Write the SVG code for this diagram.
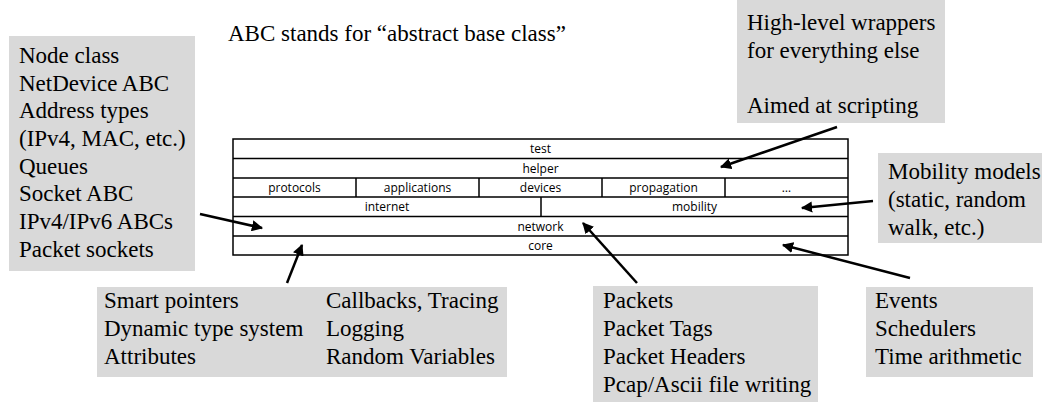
<svg xmlns="http://www.w3.org/2000/svg" width="1046" height="402" viewBox="0 0 1046 402">
<style>
.box{fill:#d9d9d9;stroke:none}
.t{font-family:"Liberation Serif","Times New Roman",serif;font-size:23px;fill:#000}
.s{font-family:"Open Sans","Liberation Sans",sans-serif;font-size:12px;fill:#000;text-anchor:middle}
.ln{stroke:#000;stroke-width:1.5;fill:none}
.ar{stroke:#000;stroke-width:2.5;fill:none;marker-end:url(#ah)}
</style>
<defs>
<marker id="ah" viewBox="0 0 10 10" refX="9" refY="5" markerWidth="4.5" markerHeight="4.5" orient="auto" markerUnits="strokeWidth">
<path d="M0,0 L10,5 L0,10 z" fill="#000"/>
</marker>
</defs>
<rect width="1046" height="402" fill="#fff"/>
<text class="t" x="228" y="41" font-size="22.7">ABC stands for “abstract base class”</text>
<g id="stack">
<rect class="ln" x="233" y="139" width="615" height="116" fill="#fff"/>
<path class="ln" d="M233,158.5H848M233,178H848M233,197H848M233,216.5H848M233,236H848M356,178V197M479,178V197M602,178V197M725,178V197M541,197V216.5"/>
<text class="s" x="540.5" y="153">test</text>
<text class="s" x="540.5" y="172.5">helper</text>
<text class="s" x="294.5" y="192">protocols</text>
<text class="s" x="417.5" y="192">applications</text>
<text class="s" x="540.5" y="192">devices</text>
<text class="s" x="663.5" y="192">propagation</text>
<text class="s" x="786.5" y="192">…</text>
<text class="s" x="387" y="211">internet</text>
<text class="s" x="694.5" y="211">mobility</text>
<text class="s" x="540.5" y="230.5">network</text>
<text class="s" x="540.5" y="250">core</text>
</g>
<g id="node-network-notes">
<rect class="box" x="9" y="36" width="186" height="235"/>
<text class="t" x="19" y="63">Node class</text>
<text class="t" x="19" y="91">NetDevice ABC</text>
<text class="t" x="19" y="118">Address types</text>
<text class="t" x="19" y="146">(IPv4, MAC, etc.)</text>
<text class="t" x="19" y="174">Queues</text>
<text class="t" x="19" y="201">Socket ABC</text>
<text class="t" x="19" y="229">IPv4/IPv6 ABCs</text>
<text class="t" x="19" y="257">Packet sockets</text>
</g>
<g id="node-helper-notes">
<rect class="box" x="737" y="0" width="208" height="123"/>
<text class="t" x="747" y="30">High-level wrappers</text>
<text class="t" x="747" y="58">for everything else</text>
<text class="t" x="747" y="113">Aimed at scripting</text>
</g>
<g id="node-mobility-notes">
<rect class="box" x="878" y="153" width="164" height="90"/>
<text class="t" x="888" y="179">Mobility models</text>
<text class="t" x="888" y="207">(static, random</text>
<text class="t" x="888" y="235">walk, etc.)</text>
</g>
<g id="node-core-notes">
<rect class="box" x="97" y="287" width="410" height="90"/>
<text class="t" x="104" y="308">Smart pointers</text>
<text class="t" x="104" y="336">Dynamic type system</text>
<text class="t" x="104" y="364">Attributes</text>
<text class="t" x="326" y="308">Callbacks, Tracing</text>
<text class="t" x="326" y="336">Logging</text>
<text class="t" x="326" y="364">Random Variables</text>
</g>
<g id="node-packet-notes">
<rect class="box" x="593" y="286" width="225" height="116"/>
<text class="t" x="603" y="308">Packets</text>
<text class="t" x="603" y="336">Packet Tags</text>
<text class="t" x="603" y="364">Packet Headers</text>
<text class="t" x="603" y="392">Pcap/Ascii file writing</text>
</g>
<g id="node-events-notes">
<rect class="box" x="866" y="287" width="167" height="90"/>
<text class="t" x="875" y="308">Events</text>
<text class="t" x="875" y="336">Schedulers</text>
<text class="t" x="875" y="364">Time arithmetic</text>
</g>
<g id="connectors">
<path class="ar" d="M200,214L262,228"/>
<path class="ar" d="M287,283L302,245"/>
<path class="ar" d="M837,127L721,167"/>
<path class="ar" d="M873,201L802,208"/>
<path class="ar" d="M637,283L583,223"/>
<path class="ar" d="M910,278L783,245"/>
</g>
</svg>
